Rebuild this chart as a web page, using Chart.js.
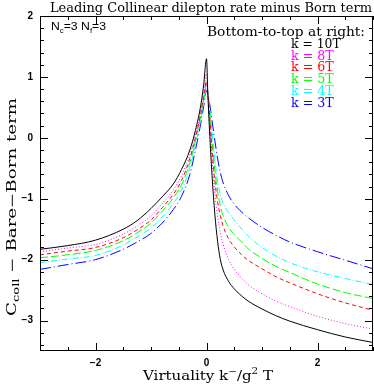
<!DOCTYPE html>
<html><head><meta charset="utf-8">
<script src="https://cdn.jsdelivr.net/npm/chart.js@4"></script>
<style>html,body{margin:0;padding:0;background:#fff;}canvas{display:block;}</style>
</head><body>
<canvas id="c" width="374" height="384"></canvas>
<script>
// ---- data ----
const virtuality = [-3, -2.5, -2, -1.5, -1.25, -1, -0.8, -0.6, -0.45, -0.3, -0.2, -0.1, -0.05, 0, 0.025, 0.05, 0.1, 0.15, 0.2, 0.25, 0.3, 0.4, 0.5, 0.6, 0.75, 1, 1.25, 1.5, 2, 2.5, 3];
const k10T = [-1.83, -1.77, -1.68, -1.50, -1.36, -1.16, -0.97, -0.76, -0.52, -0.20, 0.12, 0.55, 0.88, 1.30, 0.70, 0.20, -0.62, -1.25, -1.70, -2.00, -2.17, -2.36, -2.48, -2.57, -2.68, -2.81, -2.92, -3.01, -3.15, -3.27, -3.36];
const k8T  = [-1.87, -1.81, -1.75, -1.58, -1.45, -1.28, -1.08, -0.86, -0.62, -0.28, 0.05, 0.47, 0.75, 1.05, 0.70, 0.35, -0.35, -0.90, -1.30, -1.56, -1.75, -2.00, -2.16, -2.27, -2.41, -2.56, -2.68, -2.77, -2.93, -3.05, -3.14];
const k6T  = [-1.92, -1.86, -1.80, -1.64, -1.51, -1.35, -1.15, -0.93, -0.70, -0.34, 0.00, 0.42, 0.68, 0.93, 0.72, 0.45, -0.20, -0.70, -1.05, -1.28, -1.45, -1.66, -1.79, -1.89, -2.01, -2.15, -2.28, -2.38, -2.56, -2.71, -2.83];
const k5T  = [-1.97, -1.92, -1.85, -1.69, -1.56, -1.40, -1.21, -0.99, -0.77, -0.41, -0.05, 0.38, 0.63, 0.87, 0.72, 0.50, -0.05, -0.52, -0.88, -1.12, -1.28, -1.47, -1.59, -1.68, -1.82, -1.98, -2.11, -2.21, -2.40, -2.54, -2.64];
const k4T  = [-2.05, -1.99, -1.93, -1.76, -1.63, -1.48, -1.30, -1.08, -0.86, -0.49, -0.12, 0.32, 0.58, 0.83, 0.72, 0.55, 0.10, -0.34, -0.72, -0.93, -1.07, -1.23, -1.35, -1.46, -1.61, -1.80, -1.94, -2.05, -2.20, -2.31, -2.41];
const k3T  = [-2.16, -2.08, -2.00, -1.83, -1.71, -1.57, -1.40, -1.18, -0.96, -0.60, -0.20, 0.25, 0.52, 0.78, 0.70, 0.60, 0.28, -0.04, -0.34, -0.57, -0.74, -0.95, -1.09, -1.19, -1.31, -1.47, -1.60, -1.71, -1.87, -2.01, -2.15];
const seriesLabels = ["k = 10T", "k = 8T", "k = 6T", "k = 5T", "k = 4T", "k = 3T"];
const xTickLabels = [-2, 0, 2];
const yTickLabels = [-3, -2, -1, 0, 1, 2];

const colors = ["#000000", "#ff00ff", "#ff0000", "#00ff00", "#00ffff", "#0000ff"];
const dashes = [[], [1, 2], [4, 3], [8, 3], [6, 2, 1, 2], [11, 3, 1, 3]];
const allSeries = [k10T, k8T, k6T, k5T, k4T, k3T];

const datasets = allSeries.map((s, i) => ({
  label: seriesLabels[i],
  data: virtuality.map((x, j) => ({x: x, y: s[j]})),
  borderColor: colors[i],
  borderWidth: 1,
  borderDash: dashes[i],
  pointRadius: 0,
  fill: false,
  cubicInterpolationMode: 'monotone'
}));

const SERIF = '"DejaVu Serif", "Liberation Serif", serif';
const SANS = '"Liberation Sans", Arial, sans-serif';

function fitText(ctx, text, x, y, w, font, align) {
  ctx.save();
  ctx.font = font;
  const m = ctx.measureText(text).width;
  const s = w / m;
  let x0 = x;
  if (align === 'center') x0 = x - w / 2;
  else if (align === 'right') x0 = x - w;
  ctx.translate(x0, y);
  ctx.scale(s, 1);
  ctx.textAlign = 'left';
  ctx.fillText(text, 0, 0);
  ctx.restore();
}

function richText(ctx, parts, w) {
  let tw = 0;
  parts.forEach(p => { ctx.font = p[1] + 'px ' + SERIF; tw += ctx.measureText(p[0]).width; });
  ctx.scale(w / tw, 1);
  let cx = 0;
  parts.forEach(p => { ctx.font = p[1] + 'px ' + SERIF; ctx.fillText(p[0], cx, p[2]); cx += ctx.measureText(p[0]).width; });
}

const decor = {
  id: 'decor',
  afterDraw(chart) {
    const ctx = chart.ctx;
    const a = chart.chartArea;
    const xs = chart.scales.x, ys = chart.scales.y;
    ctx.save();
    ctx.strokeStyle = '#000';
    ctx.fillStyle = '#000';
    ctx.lineWidth = 1;
    ctx.strokeRect(Math.round(a.left) + 0.5, Math.round(a.top) + 0.5, Math.round(a.right - a.left) - 1, Math.round(a.bottom - a.top) - 1);
    ctx.beginPath();
    for (let i = -6; i <= 6; i++) {
      const v = i * 0.5;
      const px = Math.round(xs.getPixelForValue(v)) + 0.5;
      const len = (i % 4 === 0) ? 8 : 4;
      ctx.moveTo(px, a.bottom); ctx.lineTo(px, a.bottom - len);
      ctx.moveTo(px, a.top); ctx.lineTo(px, a.top + len);
    }
    for (let i = -17; i <= 10; i++) {
      const v = i * 0.2;
      const py = Math.round(ys.getPixelForValue(v)) + 0.5;
      const len = (i % 5 === 0) ? 8 : 4;
      ctx.moveTo(a.left, py); ctx.lineTo(a.left + len, py);
      ctx.moveTo(a.right, py); ctx.lineTo(a.right - len, py);
    }
    ctx.stroke();

    ctx.textBaseline = 'alphabetic';
    fitText(ctx, 'Leading Collinear dilepton rate minus Born term', 211, 12, 322, '12px ' + SERIF, 'center');

    // Nc Nf label
    ctx.save();
    ctx.translate(51, 30);
    {
      const parts = [['N', 11, 0], ['c', 7, 3], ['=3 N', 11, 0], ['f', 7, 3], ['=3', 11, 0]];
      let tw = 0;
      parts.forEach(p => { ctx.font = p[1] + 'px ' + SANS; tw += ctx.measureText(p[0]).width; });
      ctx.scale(55 / tw, 1);
      let cx = 0;
      parts.forEach(p => { ctx.font = p[1] + 'px ' + SANS; ctx.fillText(p[0], cx, p[2]); cx += ctx.measureText(p[0]).width; });
    }
    ctx.restore();

    // legend
    fitText(ctx, 'Bottom-to-top at right:', 207, 36, 158, '12px ' + SERIF, 'left');
    for (let i = 0; i < seriesLabels.length; i++) {
      ctx.fillStyle = colors[i];
      const t = seriesLabels[i];
      fitText(ctx, t, 291, 48 + i * 11.7, t.length * 7.1, '12px ' + SERIF, 'left');
    }
    ctx.fillStyle = '#000';

    // x axis title
    ctx.save();
    ctx.translate(143, 380);
    richText(ctx, [['Virtuality k', 13, 0], ['−', 9, -6], ['/g', 13, 0], ['2', 9, -6], [' T', 13, 0]], 130);
    ctx.restore();

    // y axis title
    ctx.save();
    const L = 218;
    ctx.translate(16, 207 + L / 2);
    ctx.rotate(-Math.PI / 2);
    richText(ctx, [['C', 12.5, 0], ['coll', 9, 3], [' − Bare−Born term', 12.5, 0]], L);
    ctx.restore();
    ctx.restore();
  }
};

new Chart(document.getElementById('c'), {
  type: 'line',
  data: {datasets},
  options: {
    responsive: false,
    animation: false,
    events: [],
    layout: {padding: {left: 0, right: 1, top: 16, bottom: 0}},
    plugins: {legend: {display: false}, title: {display: false}, tooltip: {enabled: false}},
    scales: {
      x: {
        type: 'linear', min: -3, max: 3,
        afterFit(s) { s.height = 33; },
        afterBuildTicks(s) { s.ticks = xTickLabels.map(v => ({value: v})); },
        grid: {display: false, drawTicks: false},
        border: {display: false},
        ticks: {padding: 6, color: '#000', font: {family: 'Liberation Sans', size: 10, weight: 'bold'},
          callback: v => (v < 0 ? '−' + Math.abs(v) : String(v)), maxRotation: 0, autoSkip: false}
      },
      y: {
        type: 'linear', min: -3.5, max: 2,
        afterFit(s) { s.width = 40; },
        afterBuildTicks(s) { s.ticks = yTickLabels.map(v => ({value: v})); },
        grid: {display: false, drawTicks: false},
        border: {display: false},
        ticks: {padding: 7, color: '#000', font: {family: 'Liberation Sans', size: 10, weight: 'bold'},
          callback: v => (v < 0 ? '−' + Math.abs(v) : String(v)), autoSkip: false}
      }
    }
  },
  plugins: [decor]
});
</script>
</body></html>
